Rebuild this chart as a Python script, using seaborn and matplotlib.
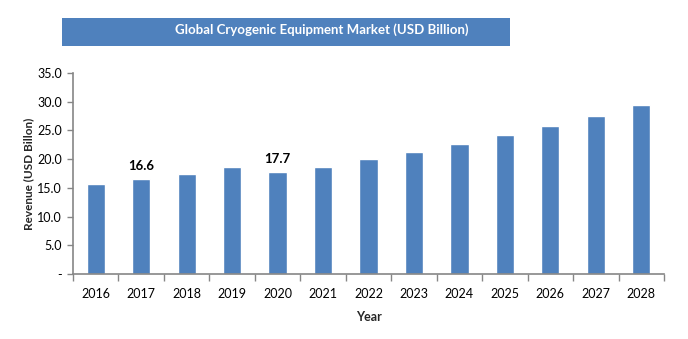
import matplotlib
matplotlib.use("Agg")
import matplotlib.pyplot as plt
import seaborn as sns
import pandas as pd
import numpy as np
from matplotlib.patches import Rectangle

years = ["2016", "2017", "2018", "2019", "2020", "2021", "2022",
         "2023", "2024", "2025", "2026", "2027", "2028"]
revenue = [15.6, 16.6, 17.5, 18.6, 17.7, 18.7, 20.0,
           21.2, 22.6, 24.2, 25.7, 27.5, 29.4]
labeled_years = ["2017", "2020"]
yticks = [0, 5, 10, 15, 20, 25, 30, 35]
ytick_labels = ["-", "5.0", "10.0", "15.0", "20.0", "25.0", "30.0", "35.0"]
title = "Global Cryogenic Equipment Market (USD Billion)"

sns.set_theme(style="white")
plt.rcParams["font.family"] = ["Lato", "DejaVu Sans"]

bar_color = "#4F81BD"
axis_color = "#868686"

df = pd.DataFrame({"Year": years, "Revenue": revenue})

fig = plt.figure(figsize=(6.88, 3.39), dpi=100)
ax = fig.add_axes([73/688, 1-274/339, (664-73)/688, 201/339])

sns.barplot(data=df, x="Year", y="Revenue", color=bar_color, width=0.4,
            saturation=1, ax=ax)

ax.set_ylim(0, 35)
ax.set_xlim(-0.5, len(years) - 0.5)
ax.set_yticks(yticks)
ax.set_yticklabels(ytick_labels, fontsize=9, color="#000000")
ax.tick_params(axis="y", length=4, width=1, color=axis_color, direction="out", pad=4, left=True)
ax.tick_params(axis="x", length=0, labelsize=9, pad=10)
ax.set_xticks(np.arange(-0.5, len(years), 1.0), minor=True)
ax.tick_params(axis="x", which="minor", length=5, width=1, color=axis_color, direction="out", bottom=True)
for lab in ax.get_xticklabels():
    lab.set_color("#000000")

for s in ["top", "right"]:
    ax.spines[s].set_visible(False)
for s in ["left", "bottom"]:
    ax.spines[s].set_color(axis_color)
    ax.spines[s].set_linewidth(1.2)

ax.set_xlabel("Year", fontsize=9, fontweight="bold", labelpad=8)
ax.set_ylabel("Revenue (USD Billon)", fontsize=8.5, fontweight="bold", labelpad=2)

for i, (yr, v) in enumerate(zip(years, revenue)):
    if yr in labeled_years:
        ax.text(i, v + 1.2, f"{v:.1f}", ha="center", va="bottom", fontsize=9.5,
                fontweight="bold", color="#000000")

# title box
fig.patches.append(Rectangle((62/688, 1-46/339), (510-62)/688, 28/339,
                             transform=fig.transFigure, facecolor=bar_color,
                             edgecolor="none", zorder=0))
fig.text(322/688, 1-30/339, title, ha="center", va="center", color="white",
         fontsize=9.5, fontweight="bold")

fig.savefig("out.png", dpi=100)
